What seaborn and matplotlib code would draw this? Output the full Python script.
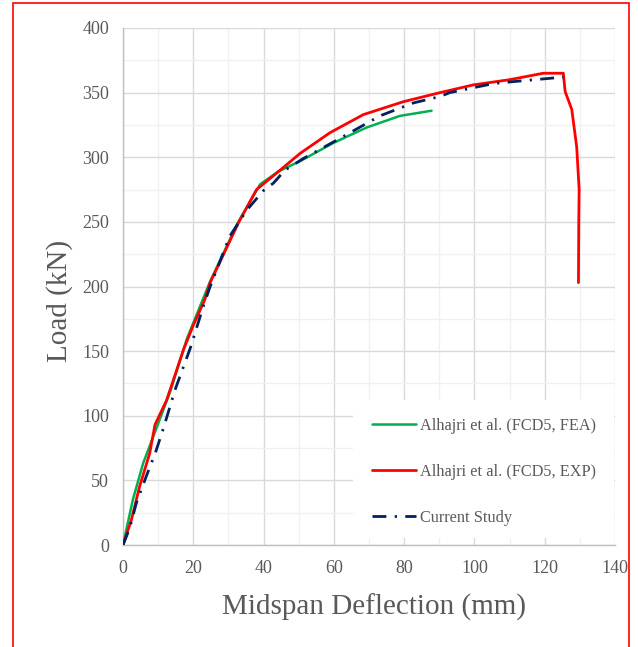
import numpy as np
import pandas as pd
import matplotlib
matplotlib.use("Agg")
import matplotlib.pyplot as plt
from matplotlib.patches import Rectangle
from matplotlib.ticker import MultipleLocator
import seaborn as sns

# ---- data ----
fea_defl = [0, 2.8, 5.7, 9.6, 13.6, 18.1, 24.8, 32.8, 39.0, 44.2, 50.4, 59.8, 69.3, 78.8, 87.8]
fea_load = [0, 35, 63, 91, 120, 159, 204, 250, 279, 289, 297, 311, 323, 332, 336]

exp_defl = [0, 2.4, 4.7, 7.6, 9.1, 12.4, 17.2, 20.0, 23.3, 24.8, 32.8, 38.0, 44.7, 50.4,
            58.9, 68.4, 79.8, 90.2, 99.7, 110.0, 119.6, 125.3, 125.8, 127.7, 129.1,
            129.8, 129.7, 129.6]
exp_load = [0, 19.6, 45, 71, 93, 112, 151, 170, 190, 203, 249, 275, 290, 303,
            319, 333, 343, 350, 356, 360, 365, 365, 351, 337, 308,
            275, 252, 203]

cs_defl = [0, 1.9, 3.8, 6.6, 9.3, 11.7, 14.8, 19.1, 22.9, 24.8, 30.4, 35.2, 39.9, 42.8,
           46.1, 51.3, 62.0, 73.1, 82.6, 90.2, 93.0, 105.4, 113.0, 125.3]
cs_load = [0, 13, 32.5, 53, 72, 92, 120, 152, 185, 200, 239, 259, 274, 280,
           290, 299, 315, 332, 342, 347, 350, 357, 359, 362]

labels = ["Alhajri et al. (FCD5, FEA)", "Alhajri et al. (FCD5, EXP)", "Current Study"]
x_ticks = [0, 20, 40, 60, 80, 100, 120, 140]
y_ticks = [0, 50, 100, 150, 200, 250, 300, 350, 400]

sns.set_theme(style="white")
plt.rcParams["font.family"] = ["Liberation Serif", "DejaVu Serif"]

fig = plt.figure(figsize=(6.38, 6.47), dpi=100)
ax = fig.add_axes([123 / 638, 1 - 545 / 647, 492 / 638, 517 / 647])

df_fea = pd.DataFrame({"d": fea_defl, "L": fea_load})
df_exp = pd.DataFrame({"d": exp_defl, "L": exp_load})
df_cs = pd.DataFrame({"d": cs_defl, "L": cs_load})

sns.lineplot(data=df_fea, x="d", y="L", sort=False, estimator=None, ax=ax,
             color="#00B050", lw=1.8, label=labels[0], zorder=3)
sns.lineplot(data=df_exp, x="d", y="L", sort=False, estimator=None, ax=ax,
             color="#FF0000", lw=2.0, label=labels[1], zorder=4)
sns.lineplot(data=df_cs, x="d", y="L", sort=False, estimator=None, ax=ax,
             color="#002060", lw=2.0, label=labels[2], zorder=5,
             linestyle=(0, (5, 3, 0.8, 3)))

ax.set_xlim(0, 140)
ax.set_ylim(0, 400)
ax.set_xticks(x_ticks)
ax.set_yticks(y_ticks)
ax.xaxis.set_minor_locator(MultipleLocator(10))
ax.yaxis.set_minor_locator(MultipleLocator(25))
ax.grid(which="major", color="#D9D9D9", lw=1.0, zorder=0)
ax.grid(which="minor", color="#F0F0F0", lw=1.0, zorder=0)
ax.set_axisbelow(True)

for s in ["top", "right"]:
    ax.spines[s].set_visible(False)
for s in ["left", "bottom"]:
    ax.spines[s].set_color("#BFBFBF")
    ax.spines[s].set_linewidth(1.0)

ax.tick_params(axis="both", which="both", length=0, labelsize=13,
               labelcolor="#595959")
ax.tick_params(axis="y", pad=10)
ax.tick_params(axis="x", pad=11)

ax.set_xlabel("Midspan Deflection (mm)", fontsize=21, color="#595959")
ax.set_ylabel("Load (kN)", fontsize=21, color="#595959")
ax.xaxis.set_label_coords((374.5 - 123) / 492, -0.095)
ax.yaxis.set_label_coords((73 - 123) / 492, (545 - 301) / 517)

# white legend background (covers the grid in that region)
ax.add_patch(Rectangle(((353 - 123) / 492, (545 - 538) / 517),
                       (614 - 353) / 492, (538 - 400) / 517,
                       transform=ax.transAxes, facecolor="white",
                       edgecolor="none", zorder=1))

leg = ax.legend(loc="upper left", bbox_to_anchor=((372 - 123) / 492, (545 - 418) / 517),
                fontsize=11.7, frameon=False, borderpad=0, labelspacing=1.85,
                handlelength=2.7, handletextpad=0.25, borderaxespad=0)
for t in leg.get_texts():
    t.set_color("#595959")

# white area outside the red frame, then the red frame
fig.patches.append(Rectangle((629 / 638, 0), 1, 1, transform=fig.transFigure,
                             facecolor="white", edgecolor="none", zorder=10))
fig.patches.append(Rectangle((12.5 / 638, -0.05), (628.5 - 12.5) / 638,
                             1.05 - 2.5 / 647, transform=fig.transFigure,
                             facecolor="none", edgecolor="#FF0000", lw=1.2,
                             zorder=11))

fig.savefig("out.png", dpi=100)
